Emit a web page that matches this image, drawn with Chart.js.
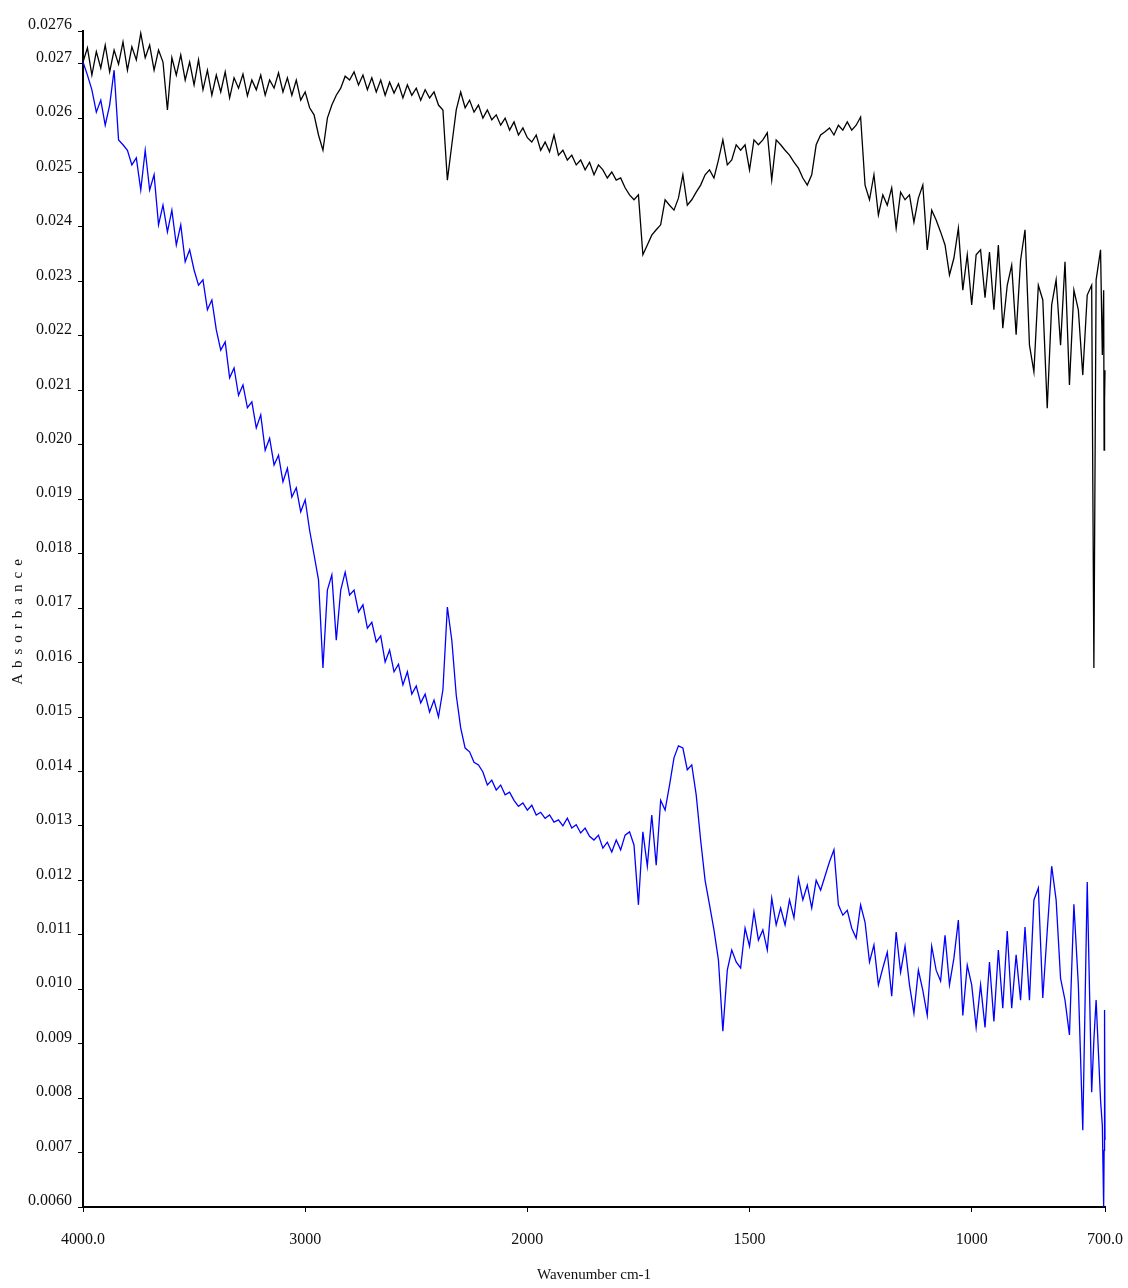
<!DOCTYPE html>
<html>
<head>
<meta charset="utf-8">
<title>Absorbance spectrum</title>
<script src="https://cdn.jsdelivr.net/npm/chart.js@4.4.1/dist/chart.umd.min.js"></script>
<style>
    html, body { margin: 0; padding: 0; background: #ffffff; }
    #graph { display: block; }
</style>
</head>
<body>
<canvas id="graph" width="1128" height="1288"></canvas>
<script>
// wavenumbers (cm-1), shared by both traces
var wavenumbers = [
    4000, 3980, 3960, 3940, 3920, 3900, 3880, 3860, 3840, 3820,
    3800, 3780, 3760, 3740, 3720, 3700, 3680, 3660, 3640, 3620,
    3600, 3580, 3560, 3540, 3520, 3500, 3480, 3460, 3440, 3420,
    3400, 3380, 3360, 3340, 3320, 3300, 3280, 3260, 3240, 3220,
    3200, 3180, 3160, 3140, 3120, 3100, 3080, 3060, 3040, 3020,
    3000, 2980, 2960, 2940, 2920, 2900, 2880, 2860, 2840, 2820,
    2800, 2780, 2760, 2740, 2720, 2700, 2680, 2660, 2640, 2620,
    2600, 2580, 2560, 2540, 2520, 2500, 2480, 2460, 2440, 2420,
    2400, 2380, 2360, 2340, 2320, 2300, 2280, 2260, 2240, 2220,
    2200, 2180, 2160, 2140, 2120, 2100, 2080, 2060, 2040, 2020,
    2000,
    1990, 1980, 1970, 1960, 1950, 1940, 1930, 1920, 1910, 1900,
    1890, 1880, 1870, 1860, 1850, 1840, 1830, 1820, 1810, 1800,
    1790, 1780, 1770, 1760, 1750, 1740, 1730, 1720, 1710, 1700,
    1690, 1680, 1670, 1660, 1650, 1640, 1630, 1620, 1610, 1600,
    1590, 1580, 1570, 1560, 1550, 1540, 1530, 1520, 1510, 1500,
    1490, 1480, 1470, 1460, 1450, 1440, 1430, 1420, 1410, 1400,
    1390, 1380, 1370, 1360, 1350, 1340, 1330, 1320, 1310, 1300,
    1290, 1280, 1270, 1260, 1250, 1240, 1230, 1220, 1210, 1200,
    1190, 1180, 1170, 1160, 1150, 1140, 1130, 1120, 1110, 1100,
    1090, 1080, 1070, 1060, 1050, 1040, 1030, 1020, 1010, 1000,
    990, 980, 970, 960, 950, 940, 930, 920, 910, 900,
    890, 880, 870, 860, 850, 840, 830, 820, 810, 800,
    790, 780, 770, 760, 750, 740,
    730, 725, 720, 710, 706, 703, 702, 701, 700
];

var blackAbs = [
    0.02703, 0.02729, 0.02679, 0.02722, 0.02692, 0.02734, 0.02685, 0.02725, 0.02699, 0.02740,
    0.02688, 0.02731, 0.02707, 0.02756, 0.02711, 0.02734, 0.02688, 0.02725, 0.02703, 0.02615,
    0.02711, 0.02679, 0.02716, 0.02670, 0.02703, 0.02661, 0.02707, 0.02652, 0.02688, 0.02642,
    0.02679, 0.02648, 0.02685, 0.02637, 0.02674, 0.02655, 0.02681, 0.02641, 0.02670, 0.02652,
    0.02679, 0.02642, 0.02670, 0.02655, 0.02683, 0.02648, 0.02674, 0.02642, 0.02670, 0.02633,
    0.02648, 0.02619, 0.02606, 0.02569, 0.02541, 0.02600, 0.02624, 0.02642, 0.02655, 0.02677,
    0.02670, 0.02685, 0.02661, 0.02679, 0.02652, 0.02674, 0.02648, 0.02670, 0.02642, 0.02666,
    0.02646, 0.02663, 0.02637, 0.02661, 0.02642, 0.02655, 0.02633, 0.02652, 0.02637, 0.02648,
    0.02624, 0.02615, 0.02486, 0.02551, 0.02615, 0.02648, 0.02619, 0.02633, 0.02611, 0.02624,
    0.02600, 0.02615, 0.02597, 0.02606, 0.02587, 0.02600, 0.02578, 0.02593, 0.02569, 0.02582,
    0.02564,
    0.02556, 0.02569, 0.02541, 0.02556, 0.02538, 0.02569, 0.02532, 0.02541, 0.02523, 0.02532,
    0.02514, 0.02523, 0.02505, 0.02519, 0.02496, 0.02514, 0.02505, 0.02490, 0.02501, 0.02486,
    0.02490, 0.02472, 0.02459, 0.02450, 0.02459, 0.02349, 0.02367, 0.02385, 0.02395, 0.02404,
    0.02450, 0.02440, 0.02431, 0.02453, 0.02496, 0.02440, 0.02450, 0.02464, 0.02477, 0.02496,
    0.02505, 0.02490, 0.02523, 0.02560, 0.02514, 0.02523, 0.02551, 0.02541, 0.02551, 0.02505,
    0.02560, 0.02551, 0.02560, 0.02573, 0.02486, 0.02560, 0.02551, 0.02541, 0.02532, 0.02519,
    0.02508, 0.02490, 0.02477, 0.02496, 0.02551, 0.02569, 0.02575, 0.02582, 0.02569, 0.02587,
    0.02578, 0.02593, 0.02578, 0.02587, 0.02602, 0.02477, 0.02450, 0.02496, 0.02422, 0.02459,
    0.02440, 0.02472, 0.02398, 0.02464, 0.02450, 0.02459, 0.02409, 0.02453, 0.02477, 0.02358,
    0.02431, 0.02413, 0.02391, 0.02367, 0.02312, 0.02343, 0.02398, 0.02284, 0.02349, 0.02257,
    0.02349, 0.02358, 0.02270, 0.02354, 0.02248, 0.02367, 0.02214, 0.02293, 0.02330, 0.02202,
    0.02339, 0.02395, 0.02183, 0.02134, 0.02293, 0.02266, 0.02067, 0.02257, 0.02303, 0.02183,
    0.02336, 0.02110, 0.02284, 0.02248, 0.02128, 0.02275,
    0.02293, 0.01590, 0.02303, 0.02358, 0.02165, 0.02284, 0.01990, 0.02082, 0.02137
];

var blueAbs = [
    0.02703, 0.02679, 0.02652, 0.02611, 0.02633, 0.02587, 0.02624, 0.02688, 0.02560, 0.02551,
    0.02541, 0.02514, 0.02527, 0.02468, 0.02541, 0.02468, 0.02496, 0.02404, 0.02440, 0.02391,
    0.02431, 0.02367, 0.02404, 0.02336, 0.02358, 0.02321, 0.02293, 0.02303, 0.02248, 0.02266,
    0.02211, 0.02174, 0.02189, 0.02123, 0.02141, 0.02091, 0.02110, 0.02068, 0.02079, 0.02031,
    0.02055, 0.01990, 0.02012, 0.01963, 0.01981, 0.01932, 0.01957, 0.01904, 0.01921, 0.01877,
    0.01899, 0.01843, 0.01798, 0.01752, 0.01590, 0.01733, 0.01761, 0.01641, 0.01733, 0.01766,
    0.01724, 0.01733, 0.01693, 0.01706, 0.01663, 0.01674, 0.01638, 0.01649, 0.01601, 0.01623,
    0.01583, 0.01597, 0.01559, 0.01583, 0.01542, 0.01557, 0.01526, 0.01542, 0.01509, 0.01531,
    0.01500, 0.01550, 0.01702, 0.01641, 0.01540, 0.01480, 0.01443, 0.01436, 0.01417, 0.01412,
    0.01399, 0.01375, 0.01384, 0.01366, 0.01375, 0.01357, 0.01362, 0.01347, 0.01336, 0.01342,
    0.01329,
    0.01338, 0.01320, 0.01325, 0.01314, 0.01320, 0.01307, 0.01311, 0.01300, 0.01314, 0.01296,
    0.01302, 0.01287, 0.01296, 0.01281, 0.01274, 0.01283, 0.01259, 0.01270, 0.01252, 0.01274,
    0.01256, 0.01283, 0.01289, 0.01265, 0.01155, 0.01289, 0.01226, 0.01320, 0.01228, 0.01347,
    0.01329, 0.01375, 0.01425, 0.01447, 0.01443, 0.01403, 0.01412, 0.01357, 0.01274, 0.01200,
    0.01155, 0.01109, 0.01054, 0.00923, 0.01035, 0.01072, 0.01050, 0.01039, 0.01112, 0.01079,
    0.01142, 0.01090, 0.01109, 0.01072, 0.01167, 0.01118, 0.01149, 0.01118, 0.01164, 0.01131,
    0.01204, 0.01164, 0.01191, 0.01149, 0.01200, 0.01182, 0.01208, 0.01234, 0.01256, 0.01155,
    0.01136, 0.01145, 0.01112, 0.01094, 0.01155, 0.01123, 0.01050, 0.01081, 0.01008, 0.01039,
    0.01068, 0.00987, 0.01105, 0.01031, 0.01079, 0.01008, 0.00956, 0.01035, 0.00998, 0.00952,
    0.01079, 0.01035, 0.01015, 0.01099, 0.01008, 0.01057, 0.01127, 0.00952, 0.01044, 0.01008,
    0.00930, 0.01008, 0.00930, 0.01050, 0.00941, 0.01072, 0.00965, 0.01107, 0.00965, 0.01063,
    0.00980, 0.01114, 0.00980, 0.01164, 0.01186, 0.00984, 0.01107, 0.01226, 0.01164, 0.01020,
    0.00980, 0.00916, 0.01156, 0.01008, 0.00741, 0.01197,
    0.00811, 0.00907, 0.00980, 0.00796, 0.00750, 0.00600, 0.00704, 0.00962, 0.00723
];

var xTicks = [4000, 3000, 2000, 1500, 1000, 700];
var xTickLabels = ["4000.0", "3000", "2000", "1500", "1000", "700.0"];
var yTicks = [0.006, 0.007, 0.008, 0.009, 0.010, 0.011, 0.012, 0.013, 0.014, 0.015, 0.016,
    0.017, 0.018, 0.019, 0.020, 0.021, 0.022, 0.023, 0.024, 0.025, 0.026, 0.027, 0.0276];
var yTickLabels = ["0.0060", "0.007", "0.008", "0.009", "0.010", "0.011", "0.012", "0.013",
    "0.014", "0.015", "0.016", "0.017", "0.018", "0.019", "0.020", "0.021", "0.022", "0.023",
    "0.024", "0.025", "0.026", "0.027", "0.0276"];

var g_break = 2000; // below this the axis is stretched x2
var g_font = "'Liberation Serif', 'Times New Roman', serif";

// linear wavenumber axis, high to low, with double scale under g_break
class WavenumberScale extends Chart.LinearScale {
    distance(v) {
        if (v >= g_break) {
            return this.max - v;
        }
        return (this.max - g_break) + 2 * (g_break - v);
    }
    getPixelForValue(value) {
        if (value === null || value === undefined) {
            return NaN;
        }
        return this.getPixelForDecimal(this.distance(value) / this.distance(this.min));
    }
    getValueForPixel(pixel) {
        var d = this.getDecimalForPixel(pixel) * this.distance(this.min);
        var upper = this.max - g_break;
        if (d <= upper) {
            return this.max - d;
        }
        return g_break - (d - upper) / 2;
    }
}
WavenumberScale.id = "wavenumber";
WavenumberScale.defaults = Chart.LinearScale.defaults;
Chart.register(WavenumberScale);

function toPoints(values) {
    return values.map(function (v, i) {
        return { x: wavenumbers[i], y: v };
    });
}

var spacedTitle = {
    id: "spacedTitle",
    beforeDraw: function (chart) {
        var scale = chart.scales.y;
        if (scale._spaced) {
            return;
        }
        var drawTitle = scale.drawTitle;
        scale.drawTitle = function () {
            this.ctx.save();
            this.ctx.letterSpacing = "6px";
            drawTitle.apply(this, arguments);
            this.ctx.restore();
        };
        scale._spaced = true;
    }
};

var ctx = document.getElementById("graph").getContext("2d");
var g_chart = new Chart(ctx, {
    type: "line",
    data: {
        datasets: [{
                label: "blue",
                data: toPoints(blueAbs),
                borderColor: "#0000ff",
                borderWidth: 1.3,
                pointRadius: 0,
                tension: 0,
                fill: false,
                clip: false
            }, {
                label: "black",
                data: toPoints(blackAbs),
                borderColor: "#000000",
                borderWidth: 1.3,
                pointRadius: 0,
                tension: 0,
                fill: false,
                clip: false
            }]
    },
    options: {
        responsive: false,
        animation: false,
        events: [],
        layout: { padding: { top: 31, right: 23, bottom: 0, left: 0 } },
        plugins: {
            legend: { display: false },
            tooltip: { enabled: false }
        },
        scales: {
            x: {
                type: "wavenumber",
                min: 700,
                max: 4000,
                bounds: "data",
                afterBuildTicks: function (scale) {
                    scale.ticks = xTicks.map(function (v) { return { value: v }; });
                },
                afterFit: function (scale) {
                    scale.height = 81;
                    scale.paddingLeft = 0;
                    scale.paddingRight = 0;
                },
                border: { display: true, color: "#000000", width: 2 },
                grid: { display: true, drawOnChartArea: false, drawTicks: true, tickLength: 5, color: "#000000" },
                ticks: {
                    autoSkip: false,
                    maxRotation: 0,
                    padding: 18,
                    color: "#111111",
                    font: { family: g_font, size: 16 },
                    callback: function (value, index) { return xTickLabels[index]; }
                },
                title: {
                    display: true,
                    text: "Wavenumber cm-1",
                    color: "#111111",
                    font: { family: g_font, size: 15 },
                    padding: { top: 0, bottom: 4 }
                }
            },
            y: {
                type: "linear",
                min: 0.006,
                max: 0.0276,
                bounds: "data",
                afterBuildTicks: function (scale) {
                    scale.ticks = yTicks.map(function (v) { return { value: v }; });
                },
                afterFit: function (scale) {
                    scale.width = 83;
                    scale.paddingTop = 0;
                    scale.paddingBottom = 0;
                },
                border: { display: true, color: "#000000", width: 2 },
                grid: { display: true, drawOnChartArea: false, drawTicks: true, tickLength: 5, color: "#000000" },
                ticks: {
                    autoSkip: false,
                    padding: 6,
                    labelOffset: -6,
                    color: "#111111",
                    font: { family: g_font, size: 16 },
                    callback: function (value, index) { return yTickLabels[index]; }
                },
                title: {
                    display: true,
                    text: "Absorbance",
                    color: "#111111",
                    font: { family: g_font, size: 15 },
                    padding: { top: 9, bottom: 0 }
                }
            }
        }
    },
    plugins: [spacedTitle]
});
</script>
</body>
</html>
